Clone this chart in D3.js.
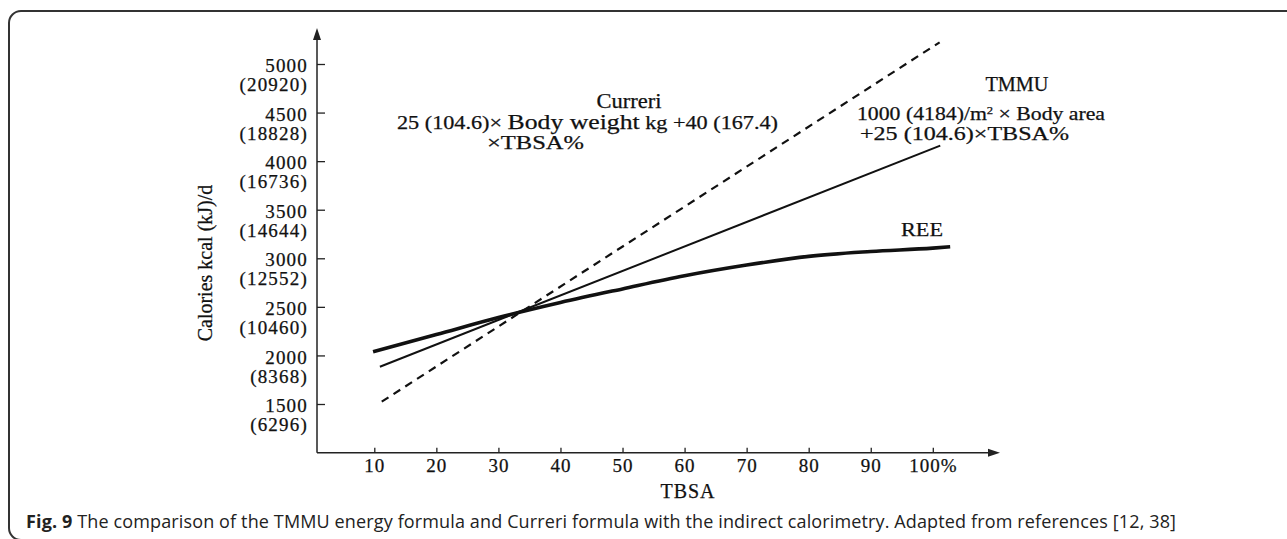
<!DOCTYPE html>
<html>
<head>
<meta charset="utf-8">
<script src="https://cdn.jsdelivr.net/npm/d3@7"></script>
<style>
  body { margin: 0; background: #fff; }
  svg { display: block; }
  .serif { font-family: "Liberation Serif", "DejaVu Serif", serif; fill: #111; stroke: #111; stroke-width: 0.25px; }
  .axis path { display: none; }
  .axis line { stroke: #222; stroke-width: 1.3; }
</style>
</head>
<body>
<div id="chart"></div>
<script>
// axis ticks
const tbsaTicks = [10, 20, 30, 40, 50, 60, 70, 80, 90, 100];
const kcalTicks = [1500, 2000, 2500, 3000, 3500, 4000, 4500, 5000];
const kjLabels = ["(6296)", "(8368)", "(10460)", "(12552)", "(14644)", "(16736)", "(18828)", "(20920)"];

// REE (indirect calorimetry), thick curve
const reeTbsa = [9.8, 20, 30, 40, 50, 60, 70, 80, 90, 100, 102.8];
const reeKcal = [2038, 2215, 2390, 2545, 2685, 2820, 2930, 3020, 3070, 3105, 3119];

// TMMU formula, thin solid line
const tmmuTbsa = [10.9, 101.2];
const tmmuKcal = [1884, 4160];

// Curreri formula, dashed line
const curreriTbsa = [11.2, 101.1];
const curreriKcal = [1524, 5223];

const width = 1287, height = 539;

const svg = d3.select("#chart").append("svg")
  .attr("width", width)
  .attr("height", height);

// figure frame
svg.append("rect")
  .attr("x", 9).attr("y", 11)
  .attr("width", 1300).attr("height", 529)
  .attr("rx", 12)
  .attr("fill", "none")
  .attr("stroke", "#333")
  .attr("stroke-width", 2);

const x = d3.scaleLinear().domain([10, 100]).range([374.3, 932.8]);
const y = d3.scaleLinear().domain([1500, 5000]).range([404, 64]);

const originX = 317, originY = 452.7;

// axis lines with arrow heads
svg.append("line")
  .attr("x1", originX).attr("y1", originY)
  .attr("x2", originX).attr("y2", 34)
  .attr("stroke", "#222").attr("stroke-width", 1.5);
svg.append("path")
  .attr("d", `M${originX},28 L${originX - 4},40 L${originX + 4},40 Z`)
  .attr("fill", "#222");

svg.append("line")
  .attr("x1", originX).attr("y1", originY)
  .attr("x2", 994).attr("y2", originY)
  .attr("stroke", "#222").attr("stroke-width", 1.5);
svg.append("path")
  .attr("d", `M1000,${originY} L988,${originY - 4} L988,${originY + 4} Z`)
  .attr("fill", "#222");

// x axis ticks
const xAxis = svg.append("g")
  .attr("class", "axis")
  .attr("transform", `translate(0,${originY})`)
  .call(d3.axisBottom(x)
    .tickValues(tbsaTicks)
    .tickSize(-5)
    .tickPadding(6)
    .tickFormat(d => d === 100 ? "100%" : d));
xAxis.selectAll("text")
  .attr("class", "serif")
  .attr("fill", null)
  .style("font-size", "19px")
  .style("letter-spacing", "1px");

// y axis ticks, two-line labels
const yAxis = svg.append("g")
  .attr("class", "axis")
  .attr("transform", `translate(${originX},0)`)
  .call(d3.axisLeft(y)
    .tickValues(kcalTicks)
    .tickSize(-8)
    .tickPadding(9)
    .tickFormat(""));
yAxis.selectAll(".tick").each(function (d, i) {
  const t = d3.select(this).append("text")
    .attr("class", "serif")
    .attr("x", -9)
    .attr("text-anchor", "end")
    .style("font-size", "19px")
    .style("letter-spacing", "1.2px");
  t.append("tspan").attr("x", -9).attr("dy", "0.4em").text(d);
  t.append("tspan").attr("x", -9).attr("dy", "1.0em").text(kjLabels[i]);
});

// axis titles
svg.append("text")
  .attr("class", "serif")
  .attr("transform", "translate(205,263) rotate(-90)")
  .attr("text-anchor", "middle")
  .attr("dy", "0.35em")
  .style("font-size", "20px")
  .text("Calories kcal (kJ)/d");

svg.append("text")
  .attr("class", "serif")
  .attr("x", 688).attr("y", 491)
  .attr("text-anchor", "middle")
  .attr("dy", "0.35em")
  .style("font-size", "20px")
  .style("letter-spacing", "1px")
  .text("TBSA");

// series
const line = d3.line()
  .x(d => x(d[0]))
  .y(d => y(d[1]));

svg.append("path")
  .datum(reeTbsa.map((t, i) => [t, reeKcal[i]]))
  .attr("fill", "none")
  .attr("stroke", "#111")
  .attr("stroke-width", 3.6)
  .attr("d", line.curve(d3.curveMonotoneX));

svg.append("path")
  .datum(tmmuTbsa.map((t, i) => [t, tmmuKcal[i]]))
  .attr("fill", "none")
  .attr("stroke", "#111")
  .attr("stroke-width", 2)
  .attr("d", line.curve(d3.curveLinear));

svg.append("path")
  .datum(curreriTbsa.map((t, i) => [t, curreriKcal[i]]))
  .attr("fill", "none")
  .attr("stroke", "#111")
  .attr("stroke-width", 2.2)
  .attr("stroke-dasharray", "8,6")
  .attr("d", line.curve(d3.curveLinear));

// annotations
function label(xp, yp, anchor, size, parts, len) {
  const t = svg.append("text")
    .attr("class", "serif")
    .attr("x", xp).attr("y", yp)
    .attr("dy", "0.35em")
    .attr("text-anchor", anchor)
    .style("font-size", size + "px");
  parts.forEach(p => {
    const s = t.append("tspan").text(p[0]);
    if (p[1]) s.style("font-size", p[1] + "px");
    if (p[2]) s.attr("baseline-shift", p[2]).style("font-size", "11px");
  });
  if (len) t.attr("textLength", len).attr("lengthAdjust", "spacingAndGlyphs");
  return t;
}

label(629, 101, "middle", 20, [["Curreri"]], 65);
label(397, 122, "start", 19, [["25 (104.6)\u00d7 "], ["Body weight", 22], [" kg  +40 (167.4)"]], 381);
label(487, 142, "start", 19, [["\u00d7TBSA%"]], 97);

label(1017, 84, "middle", 20, [["TMMU"]], 63);
label(857, 113, "start", 19, [["1000 (4184)/m"], ["2", null, "super"], [" \u00d7 Body area"]], 248);
label(860, 133, "start", 19, [["+25 (104.6)\u00d7TBSA%"]], 209);

label(922, 229, "middle", 19, [["REE"]], 42);

// caption
const cap = svg.append("text")
  .attr("x", 26).attr("y", 522)
  .attr("dy", "0.35em")
  .attr("textLength", 1150)
  .attr("lengthAdjust", "spacing")
  .style("font-family", "'Open Sans', sans-serif")
  .style("font-size", "18px")
  .style("fill", "#222");
cap.append("tspan").style("font-weight", "bold").text("Fig. 9");
cap.append("tspan").text(" The comparison of the TMMU energy formula and Curreri formula with the indirect calorimetry. Adapted from references [12, 38]");
</script>
</body>
</html>
